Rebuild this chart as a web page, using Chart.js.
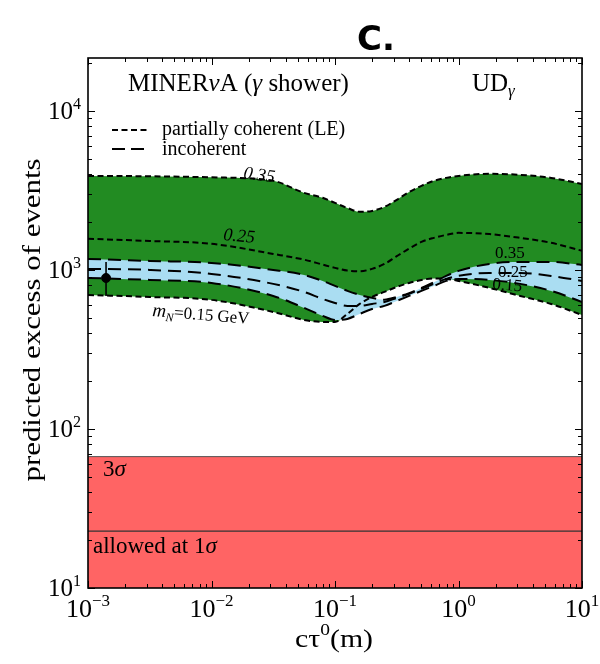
<!DOCTYPE html>
<html>
<head>
<meta charset="utf-8">
<script src="https://cdn.jsdelivr.net/npm/chart.js@4/dist/chart.umd.min.js"></script>
<style>
  html, body { margin: 0; padding: 0; background: #fff; }
  #wrap { width: 600px; height: 664px; position: relative; }
</style>
</head>
<body>
<div id="wrap"><canvas id="c" width="600" height="664"></canvas></div>
<script>
// Decay length c*tau0 in metres (shared grid for every curve)
const ctau = [0.001, 0.003162, 0.01, 0.03162, 0.05623, 0.07943, 0.1, 0.1259, 0.1585, 0.1995,
              0.2512, 0.3162, 0.3981, 0.5012, 0.631, 0.7943, 1, 1.778, 3.162, 5.623, 10];

// Partially coherent (LE) predictions, m_N = 0.35 / 0.25 / 0.15 GeV
const cohM035 = [3900, 3880, 3820, 3630, 3050, 2840, 2640, 2450, 2320, 2350,
                 2490, 2760, 3090, 3380, 3630, 3790, 3900, 4020, 3960, 3790, 3470];
const cohM025 = [1570, 1520, 1460, 1260, 1160, 1080, 1030, 990, 980, 1015,
                 1090, 1220, 1360, 1500, 1590, 1660, 1710, 1680, 1590, 1480, 1320];
const cohM015 = [696, 676, 648, 544, 485, 471, 471, 529, 611, 676,
                 727, 782, 828, 865, 884, 878, 853, 771, 686, 611, 521];

// Incoherent predictions, m_N = 0.35 / 0.25 / 0.15 GeV
const incM035 = [1173, 1139, 1107, 1000, 930, 853, 793, 738, 696, 667,
                 650, 676, 715, 770, 835, 917, 986, 1091, 1123, 1123, 1075];
const incM025 = [1015, 1000, 944, 817, 727, 657, 620, 594, 594, 611,
                 629, 667, 707, 760, 817, 878, 917, 958, 958, 917, 853];
const incM015 = [891, 865, 828, 686, 577, 514, 485, 492, 529, 568,
                 594, 638, 686, 738, 793, 853, 878, 865, 817, 738, 629];

// Allowed excess: 1 sigma and 3 sigma upper limits
const limit3sigma = 67;
const limit1sigma = 22.8;

// Measured point with its error bar
const measX = [0.0014];
const measY = [890];
const measLow = [686];
const measHigh = [1123];

// Axis ranges and decade ticks (exponents)
const xRange = [1e-3, 10];
const yRange = [10, 21500];
const xTickExp = [-3, -2, -1, 0, 1];
const yTickExp = [1, 2, 3, 4];

const SERIF = '"Liberation Serif", "DejaVu Serif", serif';
const GREEN = 'rgb(34,139,34)';
const BLUE = 'rgb(170,221,242)';
const RED = 'rgb(255,100,100)';

const pts = ys => ctau.map((x, i) => ({ x, y: ys[i] }));
const flat = v => [{ x: xRange[0], y: v }, { x: xRange[1], y: v }];

function runsWidth(ctx, runs) {
  let w = 0;
  for (const r of runs) { ctx.font = r.f; w += ctx.measureText(r.t).width; }
  return w;
}
function drawRuns(ctx, x, y, runs) {
  let cx = x;
  for (const r of runs) {
    ctx.font = r.f;
    ctx.fillText(r.t, cx, y + (r.dy || 0));
    cx += ctx.measureText(r.t).width;
  }
  return cx - x;
}
function drawStretched(ctx, cx, cy, angle, targetW, runs) {
  const w = runsWidth(ctx, runs);
  ctx.save();
  ctx.translate(cx, cy);
  ctx.rotate(angle);
  ctx.scale(targetW / w, 1);
  drawRuns(ctx, -w / 2, 0, runs);
  ctx.restore();
}
function drawRotated(ctx, x, y, angle, runs) {
  ctx.save();
  ctx.translate(x, y);
  ctx.rotate(angle);
  drawRuns(ctx, 0, 0, runs);
  ctx.restore();
}
const expText = e => (e < 0 ? '\u2212' + (-e) : String(e));

// Error bar of the measured point
const errorBars = {
  id: 'errorBars',
  afterDatasetsDraw(chart) {
    const { ctx, scales: { x, y } } = chart;
    ctx.save();
    ctx.strokeStyle = '#000';
    ctx.lineWidth = 1.6;
    measX.forEach((mx, i) => {
      const px = x.getPixelForValue(mx);
      ctx.beginPath();
      ctx.moveTo(px, y.getPixelForValue(measLow[i]));
      ctx.lineTo(px, y.getPixelForValue(measHigh[i]));
      ctx.stroke();
    });
    ctx.restore();
  }
};

// Frame, inward log ticks, tick labels, titles and annotations
const decorations = {
  id: 'decorations',
  afterDraw(chart) {
    const { ctx, chartArea: a, scales: { x, y } } = chart;
    ctx.save();
    ctx.strokeStyle = '#000';
    ctx.fillStyle = '#000';

    // inward ticks on all four sides
    ctx.lineWidth = 1;
    const tick = (x1, y1, x2, y2) => { ctx.beginPath(); ctx.moveTo(x1, y1); ctx.lineTo(x2, y2); ctx.stroke(); };
    for (let e = -3; e <= 1; e++) {
      for (let k = 1; k <= 9; k++) {
        const v = k * Math.pow(10, e);
        if (v > xRange[1] * 1.0001) break;
        const px = Math.round(x.getPixelForValue(v)) + 0.5;
        const len = k === 1 ? 7 : 4;
        tick(px, a.bottom, px, a.bottom - len);
        tick(px, a.top, px, a.top + len);
      }
    }
    for (let e = 1; e <= 4; e++) {
      for (let k = 1; k <= 9; k++) {
        const v = k * Math.pow(10, e);
        if (v > yRange[1]) break;
        const py = Math.round(y.getPixelForValue(v)) + 0.5;
        const len = k === 1 ? 7 : 4;
        tick(a.left, py, a.left + len, py);
        tick(a.right, py, a.right - len, py);
      }
    }

    // frame
    ctx.lineWidth = 1.6;
    ctx.strokeRect(a.left, a.top, a.right - a.left, a.bottom - a.top);

    // tick labels
    ctx.textBaseline = 'alphabetic';
    ctx.textAlign = 'left';
    xTickExp.forEach(e => {
      const px = x.getPixelForValue(Math.pow(10, e));
      const runs = [{ t: '10', f: `26px ${SERIF}` }, { t: expText(e), f: `17px ${SERIF}`, dy: -11 }];
      const w = runsWidth(ctx, runs);
      drawRuns(ctx, px - w / 2, a.bottom + 29, runs);
    });
    yTickExp.forEach(e => {
      const py = y.getPixelForValue(Math.pow(10, e));
      const runs = [{ t: '10', f: `25px ${SERIF}` }, { t: expText(e), f: `16px ${SERIF}`, dy: -10 }];
      const w = runsWidth(ctx, runs);
      drawRuns(ctx, a.left - 7 - w, py + 8, runs);
    });

    // axis titles
    drawStretched(ctx, 40, 320, -Math.PI / 2, 323,
      [{ t: 'predicted excess of events', f: `26px ${SERIF}` }]);
    drawStretched(ctx, 334, 647, 0, 78,
      [{ t: 'c\u03c4', f: `26px ${SERIF}` }, { t: '0', f: `17px ${SERIF}`, dy: -12 }, { t: '(m)', f: `26px ${SERIF}` }]);

    // panel title
    ctx.font = `bold 34px "DejaVu Sans", sans-serif`;
    ctx.textAlign = 'center';
    ctx.fillText('C.', 376, 50);
    ctx.textAlign = 'left';

    // experiment and model labels
    drawRuns(ctx, 128, 91, [
      { t: 'MINER', f: `25px ${SERIF}` }, { t: '\u03bd', f: `italic 25px ${SERIF}` },
      { t: 'A (', f: `25px ${SERIF}` }, { t: '\u03b3', f: `italic 25px ${SERIF}` },
      { t: ' shower)', f: `25px ${SERIF}` }
    ]);
    drawRuns(ctx, 472, 91, [
      { t: 'UD', f: `25px ${SERIF}` }, { t: '\u03b3', f: `italic 17px ${SERIF}`, dy: 5 }
    ]);

    // legend
    ctx.lineWidth = 2;
    ctx.setLineDash([6, 3.5]);
    tick(112, 130, 147, 130);
    ctx.setLineDash([13, 6]);
    tick(112, 149, 144, 149);
    ctx.setLineDash([]);
    drawRuns(ctx, 162, 135, [{ t: 'partially coherent (LE)', f: `20px ${SERIF}` }]);
    drawRuns(ctx, 162, 155, [{ t: 'incoherent', f: `20px ${SERIF}` }]);

    // curve labels
    drawRotated(ctx, 243, 178, 0.14, [{ t: '0.35', f: `italic 18px ${SERIF}` }]);
    drawRotated(ctx, 223, 240, 0.09, [{ t: '0.25', f: `italic 18px ${SERIF}` }]);
    drawRotated(ctx, 152, 316, 0.08, [
      { t: 'm', f: `italic 19px ${SERIF}` }, { t: 'N', f: `italic 12px ${SERIF}`, dy: 4 },
      { t: '=0.15 GeV', f: `17px ${SERIF}` }
    ]);
    drawRuns(ctx, 495, 258, [{ t: '0.35', f: `17px ${SERIF}` }]);
    drawRuns(ctx, 498, 277, [{ t: '0.25', f: `17px ${SERIF}` }]);
    drawRotated(ctx, 492, 289, 0.08, [{ t: '0.15', f: `17px ${SERIF}` }]);

    // significance labels
    drawRuns(ctx, 103, 476, [{ t: '3', f: `23px ${SERIF}` }, { t: '\u03c3', f: `italic 23px ${SERIF}` }]);
    drawRuns(ctx, 93, 553, [{ t: 'allowed at 1', f: `23px ${SERIF}` }, { t: '\u03c3', f: `italic 23px ${SERIF}` }]);

    ctx.restore();
  }
};

const cohLine = { borderColor: '#000', borderWidth: 2, borderDash: [6, 3.5], pointRadius: 0, cubicInterpolationMode: 'monotone' };
const incLine = { borderColor: '#000', borderWidth: 2, borderDash: [13, 7], pointRadius: 0, cubicInterpolationMode: 'monotone' };

new Chart(document.getElementById('c'), {
  type: 'line',
  data: {
    datasets: [
      // 0: measurement
      { data: measX.map((v, i) => ({ x: v, y: measY[i] })), showLine: false,
        pointRadius: 4.5, pointBackgroundColor: '#000', pointBorderColor: '#000', fill: false },
      // 1-3: incoherent band (filled between 0.35 and 0.15)
      { ...incLine, data: pts(incM035), fill: 3, backgroundColor: BLUE },
      { ...incLine, data: pts(incM025), fill: false },
      { ...incLine, data: pts(incM015), fill: false },
      // 4-6: partially coherent band (filled between 0.35 and 0.15)
      { ...cohLine, data: pts(cohM035), fill: 6, backgroundColor: GREEN },
      { ...cohLine, data: pts(cohM025), fill: false },
      { ...cohLine, data: pts(cohM015), fill: false },
      // 7-8: allowed region
      { data: flat(limit3sigma), borderColor: '#555', borderWidth: 1, pointRadius: 0,
        fill: 'start', backgroundColor: RED },
      { data: flat(limit1sigma), borderColor: '#333', borderWidth: 1.2, pointRadius: 0, fill: false }
    ]
  },
  options: {
    responsive: false,
    animation: false,
    devicePixelRatio: 1,
    layout: { padding: { left: 88, top: 58, right: 18, bottom: 76 } },
    scales: {
      x: { type: 'logarithmic', min: xRange[0], max: xRange[1], display: false },
      y: { type: 'logarithmic', min: yRange[0], max: yRange[1], display: false }
    },
    plugins: {
      legend: { display: false },
      tooltip: { enabled: false },
      filler: { drawTime: 'beforeDatasetsDraw' }
    }
  },
  plugins: [errorBars, decorations]
});
</script>
</body>
</html>
